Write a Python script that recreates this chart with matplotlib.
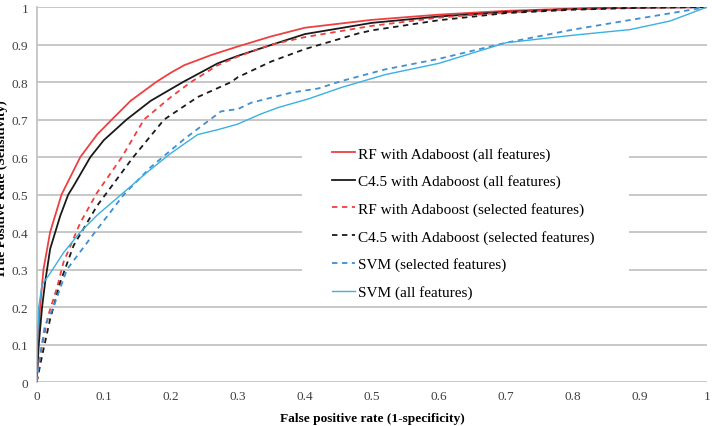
import matplotlib
matplotlib.use("Agg")
import matplotlib.pyplot as plt
from matplotlib.patches import Rectangle

plt.rcParams['font.family'] = ['Liberation Serif', 'DejaVu Serif']

# ROC curves (false positive rate, true positive rate)
rf_all_x = [0, 0.002, 0.005, 0.01, 0.02, 0.037, 0.065, 0.09, 0.112, 0.14, 0.178, 0.2, 0.22, 0.26, 0.3, 0.35, 0.4, 0.5, 0.6, 0.7, 0.8, 0.9, 1.0]
rf_all_y = [0, 0.1, 0.2, 0.3, 0.4, 0.5, 0.6, 0.66, 0.7, 0.75, 0.8, 0.825, 0.845, 0.872, 0.895, 0.922, 0.945, 0.966, 0.98, 0.99, 0.996, 0.999, 1.0]

c45_all_x = [0, 0.003, 0.008, 0.0125, 0.02, 0.035, 0.047, 0.055, 0.08, 0.1, 0.134, 0.17, 0.218, 0.27, 0.3, 0.36, 0.4, 0.5, 0.6, 0.7, 0.8, 0.9, 1.0]
c45_all_y = [0, 0.1, 0.2, 0.266, 0.355, 0.443, 0.5, 0.523, 0.6, 0.645, 0.7, 0.75, 0.8, 0.85, 0.87, 0.905, 0.928, 0.958, 0.975, 0.987, 0.995, 0.999, 1.0]

rf_sel_x = [0, 0.007, 0.017, 0.03, 0.04, 0.065, 0.09, 0.127, 0.16, 0.2, 0.23, 0.27, 0.3, 0.35, 0.4, 0.5, 0.6, 0.7, 0.8, 0.9, 1.0]
rf_sel_y = [0, 0.088, 0.177, 0.25, 0.32, 0.425, 0.505, 0.6, 0.7, 0.76, 0.8, 0.845, 0.868, 0.9, 0.92, 0.95, 0.972, 0.986, 0.995, 0.999, 1.0]

c45_sel_x = [0, 0.008, 0.02, 0.035, 0.055, 0.09, 0.144, 0.19, 0.24, 0.29, 0.3, 0.35, 0.4, 0.48, 0.5, 0.6, 0.7, 0.8, 0.9, 1.0]
c45_sel_y = [0, 0.07, 0.168, 0.266, 0.364, 0.47, 0.6, 0.7, 0.76, 0.8, 0.813, 0.855, 0.888, 0.93, 0.938, 0.965, 0.984, 0.993, 0.998, 1.0]

svm_sel_x = [0, 0.005, 0.012, 0.025, 0.045, 0.087, 0.13, 0.17, 0.22, 0.275, 0.3, 0.32, 0.38, 0.42, 0.455, 0.52, 0.6, 0.7, 0.8, 0.9, 1.0]
svm_sel_y = [0, 0.07, 0.15, 0.2, 0.3, 0.4, 0.5, 0.573, 0.648, 0.722, 0.728, 0.745, 0.772, 0.783, 0.803, 0.834, 0.862, 0.905, 0.94, 0.97, 1.0]

svm_all_x = [0, 0.001, 0.003, 0.008, 0.02, 0.04, 0.065, 0.09, 0.124, 0.165, 0.2, 0.24, 0.27, 0.3, 0.333, 0.36, 0.405, 0.455, 0.52, 0.6, 0.7, 0.8, 0.885, 0.945, 1.0]
svm_all_y = [0, 0.1, 0.2, 0.26, 0.29, 0.345, 0.4, 0.445, 0.497, 0.56, 0.61, 0.66, 0.673, 0.688, 0.714, 0.732, 0.755, 0.786, 0.82, 0.85, 0.905, 0.925, 0.94, 0.963, 1.0]

labels = ["RF with Adaboost (all features)",
          "C4.5 with Adaboost (all features)",
          "RF with Adaboost (selected features)",
          "C4.5 with Adaboost (selected features)",
          "SVM (selected features)",
          "SVM (all features)"]

fig = plt.figure(figsize=(7.12, 4.27), dpi=100)
ax = fig.add_axes([0.0516, 0.103, 0.9414, 0.878])

red = '#ee4040'
black = '#1a1a1a'
blue = '#3f8fd2'
lightblue = '#3bb0e2'

ax.plot(rf_all_x, rf_all_y, color=red, lw=1.3, label=labels[0], zorder=3)
ax.plot(c45_all_x, c45_all_y, color=black, lw=1.3, label=labels[1], zorder=3)
ax.plot(rf_sel_x, rf_sel_y, color=red, lw=1.3, ls=(0, (3, 2.5)), label=labels[2], zorder=3)
ax.plot(c45_sel_x, c45_sel_y, color=black, lw=1.3, ls=(0, (3, 2.5)), label=labels[3], zorder=3)
ax.plot(svm_sel_x, svm_sel_y, color=blue, lw=1.3, ls=(0, (3, 2.5)), label=labels[4], zorder=3)
ax.plot(svm_all_x, svm_all_y, color=lightblue, lw=1.0, label=labels[5], zorder=3)

ax.set_xlim(0, 1)
ax.set_ylim(0, 1)
ax.set_xticks([i / 10 for i in range(11)])
ax.set_yticks([i / 10 for i in range(11)])
ax.set_xticklabels(['0', '0.1', '0.2', '0.3', '0.4', '0.5', '0.6', '0.7', '0.8', '0.9', '1'])
ax.set_yticklabels(['0', '0.1', '0.2', '0.3', '0.4', '0.5', '0.6', '0.7', '0.8', '0.9', '1'])
ax.tick_params(length=0, labelsize=9.5, colors='#404040', pad=6)
ax.grid(axis='y', color='#c4c4c4', lw=1.3, zorder=0)
ax.set_axisbelow(True)
for s in ['top', 'right', 'bottom']:
    ax.spines[s].set_visible(False)
ax.spines['left'].set_color('#c4c4c4')
ax.spines['left'].set_linewidth(1.3)

# white legend area hiding the gridlines, as in the original
ax.add_patch(Rectangle((0.396, 0.22), 0.487, 0.45, transform=ax.transAxes,
                       facecolor='white', edgecolor='none', zorder=1))

ax.legend(loc='upper left', bbox_to_anchor=(0.441, 0.628), frameon=False,
          fontsize=11, handlelength=1.5, handletextpad=0.2,
          labelspacing=0.9, borderpad=0, borderaxespad=0)

fig.text(0.5226, 0.0187, "False positive rate (1-specificity)", ha='center',
         va='center', fontsize=9.6, fontweight='bold')
fig.text(0.003, 0.557, "True Positive Rate (Sensitivity)", ha='center',
         va='center', rotation=90, fontsize=9.6, fontweight='bold')

fig.savefig("out.png", dpi=100)
